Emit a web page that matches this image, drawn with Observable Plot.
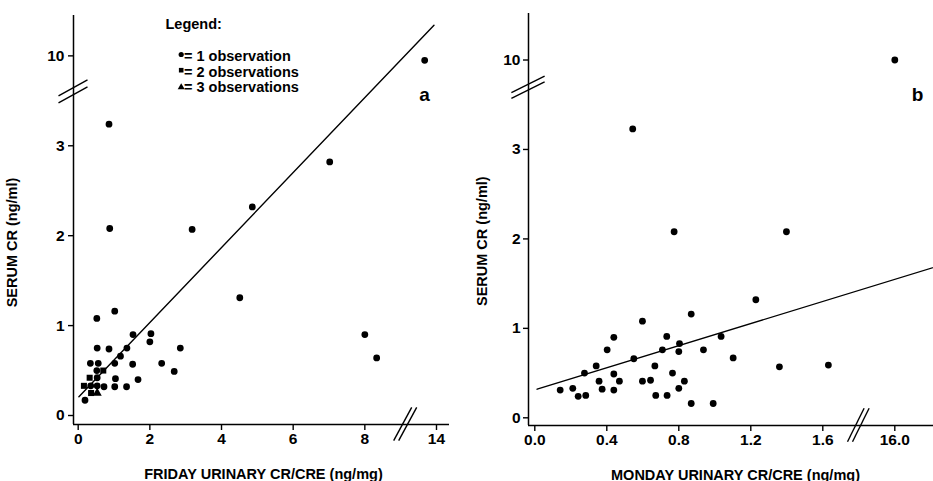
<!DOCTYPE html>
<html>
<head>
<meta charset="utf-8">
<script src="https://cdn.jsdelivr.net/npm/d3@7"></script>
<script src="https://cdn.jsdelivr.net/npm/@observablehq/plot@0.6"></script>
<style>
  html, body { margin: 0; padding: 0; background: #fff; }
  #wrap { display: flex; width: 933px; height: 481px; }
</style>
</head>
<body>
<div id="wrap"></div>
<script>
// ---------- Panel a: Friday ----------
const fridayX = [13.67, 0.86, 7.02, 4.86, 0.88, 3.18, 4.51, 1.02, 0.52, 8.0, 1.53, 2.03, 2.0, 8.33, 0.53, 0.86, 1.36, 2.85, 1.18, 0.34, 0.56, 1.02, 1.52, 2.33, 0.52, 0.70, 2.68, 0.32, 0.53, 1.04, 1.67, 0.16, 0.35, 0.53, 0.72, 1.02, 1.35, 0.36, 0.53, 0.19];
const fridayY = [9.95, 3.24, 2.82, 2.32, 2.08, 2.07, 1.31, 1.16, 1.08, 0.90, 0.90, 0.91, 0.82, 0.64, 0.75, 0.74, 0.75, 0.75, 0.66, 0.58, 0.58, 0.58, 0.57, 0.58, 0.50, 0.50, 0.49, 0.42, 0.42, 0.41, 0.40, 0.33, 0.33, 0.33, 0.32, 0.32, 0.32, 0.25, 0.25, 0.17];
const fridayN = [1, 1, 1, 1, 1, 1, 1, 1, 1, 1, 1, 1, 1, 1, 1, 1, 1, 1, 1, 1, 1, 1, 1, 1, 1, 2, 1, 2, 1, 1, 1, 2, 1, 1, 1, 1, 1, 2, 3, 1];
const fridayXTicks = [0, 2, 4, 6, 8, 14];
const fridayXLabels = ["0", "2", "4", "6", "8", "14"];
const fridayFit = {intercept: 0.2, slope: 0.417, from: 0.02, to: 9.93};

// ---------- Panel b: Monday ----------
const mondayX = [16.0, 0.544, 0.774, 1.398, 1.228, 0.869, 0.598, 0.439, 0.733, 1.035, 0.804, 0.402, 0.709, 0.80, 0.937, 0.55, 1.102, 0.341, 0.667, 1.359, 1.631, 0.276, 0.439, 0.765, 0.357, 0.47, 0.598, 0.643, 0.831, 0.141, 0.211, 0.374, 0.439, 0.80, 0.241, 0.283, 0.672, 0.735, 0.869, 0.991];
const mondayY = [10.0, 3.23, 2.08, 2.08, 1.32, 1.16, 1.08, 0.90, 0.91, 0.91, 0.83, 0.76, 0.76, 0.74, 0.76, 0.66, 0.67, 0.58, 0.58, 0.57, 0.59, 0.50, 0.49, 0.50, 0.41, 0.41, 0.41, 0.42, 0.41, 0.31, 0.33, 0.32, 0.31, 0.33, 0.24, 0.25, 0.25, 0.25, 0.16, 0.16];
const mondayXTicks = [0, 0.4, 0.8, 1.2, 1.6, 16.0];
const mondayXLabels = ["0.0", "0.4", "0.8", "1.2", "1.6", "16.0"];
const mondayFit = {intercept: 0.312, slope: 0.618, from: 0.013, to: 2.25};

// ---------- shared ----------
const yTicks = [0, 1, 2, 3, 10];
const yLabels = ["0", "1", "2", "3", "10"];
const yTitle = "SERUM CR (ng/ml)";
const fridayTitle = "FRIDAY URINARY CR/CRE (ng/mg)";
const mondayTitle = "MONDAY URINARY CR/CRE (ng/mg)";
const legendTitle = "Legend:";
const legendSymbols = ["circle", "square", "triangle"];
const legendLabels = ["= 1 observation", "= 2 observations", "= 3 observations"];

const FONT = "'Liberation Sans', Arial, Helvetica, sans-serif";

// broken-axis mappings
const brkYa = v => v > 5 ? v - 6 : v;
const brkXa = v => v > 10 ? v - 4 : v;
const brkXb = v => v > 5 ? v - 14 : v;

function fitLine(f) {
  return [f.from, f.to].map(x => ({x, y: f.intercept + f.slope * x}));
}

function tickMap(ticks, labels, fn) {
  const m = new Map(ticks.map((t, i) => [fn(t), labels[i]]));
  return d => m.get(d);
}

function drawBreaks(plot, br) {
  const svg = d3.select(plot);
  const sx = plot.scale("x"), sy = plot.scale("y");
  const g = svg.append("g").attr("stroke", "black").attr("stroke-width", 1.4).attr("fill", "none");
  const ax = sx.range[0], ay = sy.apply(br.y);
  for (const s of [-br.ySep / 2, br.ySep / 2]) {
    g.append("line")
      .attr("x1", ax - br.yHalfW).attr("y1", ay + br.yHalfH + s)
      .attr("x2", ax + br.yHalfW).attr("y2", ay - br.yHalfH + s);
  }
  const bx = sx.apply(br.x), by = sy.range[0];
  for (const s of [-br.xSep / 2, br.xSep / 2]) {
    g.append("line")
      .attr("x1", bx - br.xHalfW + s).attr("y1", by + br.xHalfH)
      .attr("x2", bx + br.xHalfW + s).attr("y2", by - br.xHalfH);
  }
}

const baseStyle = {fontFamily: FONT, fontSize: "14.5px", fontWeight: "bold", background: "#fff", color: "#000"};
const TICKFS = 15.5;

// ---------- Plot a ----------
const fridayData = fridayX.map((x, i) => ({x, y: fridayY[i], n: fridayN[i]}));
const xDomA = [-0.131, 10.363], yDomA = [-0.1, 4.449];

const legendMarks = [
  Plot.text([legendTitle], {frameAnchor: "top-left", dx: 92, dy: 13.3, text: d => d, textAnchor: "start", lineAnchor: "bottom", fontSize: 14.5})
];
const legSymDy = [39, 54.7, 71.7];
const legTxtDy = [45, 61, 76.7];
legendSymbols.forEach((s, i) => {
  legendMarks.push(Plot.dot([0], {frameAnchor: "top-left", dx: 107.7, dy: legSymDy[i], symbol: s, r: 2.6, fill: "black", stroke: "none"}));
  legendMarks.push(Plot.text([legendLabels[i]], {frameAnchor: "top-left", dx: 110.5, dy: legTxtDy[i], text: d => d, textAnchor: "start", lineAnchor: "bottom", fontSize: 14.5}));
});

const plotA = Plot.plot({
  width: 470, height: 481,
  marginLeft: 73, marginRight: 21, marginTop: 15, marginBottom: 57,
  style: baseStyle,
  x: {domain: xDomA},
  y: {domain: yDomA},
  symbol: {domain: [1, 2, 3], range: ["circle", "square", "triangle"]},
  marks: [
    Plot.ruleX([xDomA[0]], {stroke: "black", strokeWidth: 1.5}),
    Plot.ruleY([yDomA[0]], {stroke: "black", strokeWidth: 1.5}),
    Plot.axisX({ticks: fridayXTicks.map(brkXa), tickFormat: tickMap(fridayXTicks, fridayXLabels, brkXa), tickSize: 6, tickPadding: 2, label: null, strokeWidth: 1.4, fontSize: TICKFS, fontWeight: "bold"}),
    Plot.axisY({ticks: yTicks.map(brkYa), tickFormat: tickMap(yTicks, yLabels, brkYa), tickSize: 5, tickPadding: 4, label: null, strokeWidth: 1.4, fontSize: TICKFS, fontWeight: "bold"}),
    Plot.line(fitLine(fridayFit), {x: "x", y: "y", stroke: "black", strokeWidth: 1.4, clip: true}),
    Plot.dot(fridayData, {x: d => brkXa(d.x), y: d => brkYa(d.y), symbol: "n", r: 3.4, fill: "black", stroke: "none"}),
    Plot.text([yTitle], {frameAnchor: "left", dx: -56.5, dy: 22.5, rotate: -90, text: d => d, textAnchor: "middle", lineAnchor: "bottom", fontSize: 14.5}),
    Plot.text([fridayTitle], {frameAnchor: "bottom", dx: 2, dy: 54, text: d => d, textAnchor: "middle", lineAnchor: "bottom", fontSize: 14.5}),
    Plot.text(["a"], {frameAnchor: "top-right", dx: -25, dy: 85, text: d => d, textAnchor: "middle", lineAnchor: "bottom", fontSize: 19}),
    ...legendMarks
  ]
});
drawBreaks(plotA, {y: 3.6, yHalfW: 14.5, yHalfH: 8, ySep: 7, x: 9.14, xHalfW: 9, xHalfH: 16.7, xSep: 5});

// ---------- Plot b ----------
const mondayData = mondayX.map((x, i) => ({x, y: mondayY[i]}));
const xDomB = [-0.035, 2.215], yDomB = [-0.086, 4.52];

const plotB = Plot.plot({
  width: 463, height: 481,
  marginLeft: 58, marginRight: 0, marginTop: 13, marginBottom: 56,
  style: baseStyle,
  x: {domain: xDomB},
  y: {domain: yDomB},
  marks: [
    Plot.ruleX([xDomB[0]], {stroke: "black", strokeWidth: 1.5}),
    Plot.ruleY([yDomB[0]], {stroke: "black", strokeWidth: 1.5}),
    Plot.axisX({ticks: mondayXTicks.map(brkXb), tickFormat: tickMap(mondayXTicks, mondayXLabels, brkXb), tickSize: 6, tickPadding: 2, label: null, strokeWidth: 1.4, fontSize: TICKFS, fontWeight: "bold"}),
    Plot.axisY({ticks: yTicks.map(brkYa), tickFormat: tickMap(yTicks, yLabels, brkYa), tickSize: 5, tickPadding: 3, label: null, strokeWidth: 1.4, fontSize: TICKFS, fontWeight: "bold"}),
    Plot.line(fitLine(mondayFit), {x: "x", y: "y", stroke: "black", strokeWidth: 1.4, clip: true}),
    Plot.dot(mondayData, {x: d => brkXb(d.x), y: d => brkYa(d.y), r: 3.4, fill: "black", stroke: "none"}),
    Plot.text([yTitle], {frameAnchor: "left", dx: -41.5, dy: 21.7, rotate: -90, text: d => d, textAnchor: "middle", lineAnchor: "bottom", fontSize: 14.5}),
    Plot.text([mondayTitle], {frameAnchor: "bottom", dx: 4.5, dy: 54, text: d => d, textAnchor: "middle", lineAnchor: "bottom", fontSize: 14.5}),
    Plot.text(["b"], {frameAnchor: "top-right", dx: -16, dy: 87, text: d => d, textAnchor: "middle", lineAnchor: "bottom", fontSize: 19})
  ]
});
drawBreaks(plotB, {y: 3.69, yHalfW: 16.6, yHalfH: 8.3, ySep: 5.7, x: 1.80, xHalfW: 8.3, xHalfH: 16.7, xSep: 5});

document.getElementById("wrap").append(plotA, plotB);
</script>
</body>
</html>
